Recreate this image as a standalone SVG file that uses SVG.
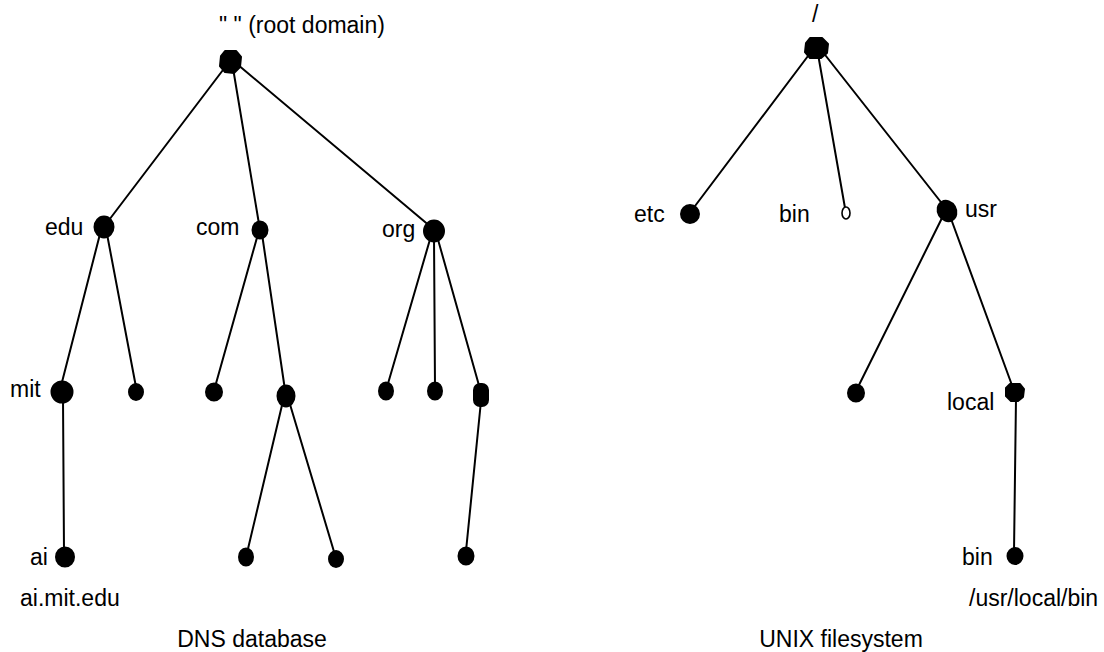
<svg xmlns="http://www.w3.org/2000/svg" width="1104" height="652" viewBox="0 0 1104 652">
  <style>
    text { font-family: "Liberation Sans", Arial, sans-serif; font-size: 23px; fill: #000; }
    .edge { stroke: #000; stroke-width: 2; fill: none; stroke-linecap: round; }
    .dot { fill: #000; stroke: #000; stroke-width: 2; stroke-linejoin: round; }
    .hollow { fill: #fff; stroke: #000; stroke-width: 1.6; }
    .mid { text-anchor: middle; }
  </style>

  <!-- connectors -->
  <g id="edges">
    <!-- DNS tree -->
    <line class="edge" x1="226" y1="66" x2="106" y2="224"/>
    <line class="edge" x1="233" y1="68" x2="259" y2="224"/>
    <line class="edge" x1="237" y1="64" x2="431" y2="227"/>
    <line class="edge" x1="100" y1="234" x2="61" y2="386"/>
    <line class="edge" x1="107" y1="234" x2="136" y2="387"/>
    <line class="edge" x1="258" y1="234" x2="215" y2="387"/>
    <line class="edge" x1="262" y1="234" x2="285" y2="390"/>
    <line class="edge" x1="431" y1="236" x2="387" y2="387"/>
    <line class="edge" x1="434" y1="236" x2="435" y2="387"/>
    <line class="edge" x1="437" y1="236" x2="480" y2="389"/>
    <line class="edge" x1="63" y1="398" x2="64" y2="552"/>
    <line class="edge" x1="283" y1="401" x2="247" y2="553"/>
    <line class="edge" x1="289" y1="401" x2="335" y2="555"/>
    <line class="edge" x1="481" y1="401" x2="466" y2="551"/>
    <!-- UNIX tree -->
    <line class="edge" x1="811" y1="52" x2="692" y2="210"/>
    <line class="edge" x1="818" y1="54" x2="845" y2="208"/>
    <line class="edge" x1="822" y1="51" x2="944" y2="206"/>
    <line class="edge" x1="943" y1="216" x2="857" y2="389"/>
    <line class="edge" x1="950" y1="216" x2="1013" y2="388"/>
    <line class="edge" x1="1016" y1="398" x2="1014" y2="552"/>
  </g>

  <!-- DNS database tree -->
  <g id="dns-root">
    <path class="dot" d="M225,51 L236,51 L241,57 L240,67 L234,73 L225,72 L220,66 L221,56 Z"/>
    <text class="mid" x="302" y="33">" " (root domain)</text>
  </g>
  <g id="dns-edu">
    <ellipse class="dot" cx="104" cy="227" rx="9.5" ry="10.5"/>
    <text x="45" y="235">edu</text>
  </g>
  <g id="dns-com">
    <ellipse class="dot" cx="260" cy="230" rx="7.5" ry="8.5"/>
    <text x="196" y="235">com</text>
  </g>
  <g id="dns-org">
    <ellipse class="dot" cx="434" cy="231" rx="10" ry="10.5"/>
    <text x="382" y="237">org</text>
  </g>
  <g id="dns-mit">
    <ellipse class="dot" cx="62" cy="392" rx="10.5" ry="10.5"/>
    <text x="10" y="397">mit</text>
  </g>
  <g id="dns-edu-other">
    <ellipse class="dot" cx="136" cy="392" rx="7" ry="8"/>
  </g>
  <g id="dns-com-a">
    <ellipse class="dot" cx="214" cy="392" rx="8" ry="8.5"/>
  </g>
  <g id="dns-com-b">
    <ellipse class="dot" cx="286" cy="396" rx="8.5" ry="10.5"/>
  </g>
  <g id="dns-org-a">
    <ellipse class="dot" cx="386" cy="391" rx="7" ry="8.5"/>
  </g>
  <g id="dns-org-b">
    <ellipse class="dot" cx="435" cy="391" rx="7" ry="8.5"/>
  </g>
  <g id="dns-org-c">
    <rect class="dot" x="474" y="384" width="14" height="22" rx="6" ry="6"/>
  </g>
  <g id="dns-ai">
    <ellipse class="dot" cx="65" cy="557" rx="9" ry="9.5"/>
    <text x="30" y="565">ai</text>
  </g>
  <g id="dns-com-b-a">
    <ellipse class="dot" cx="246" cy="557" rx="7" ry="8.5"/>
  </g>
  <g id="dns-com-b-b">
    <ellipse class="dot" cx="336" cy="559" rx="7" ry="8"/>
  </g>
  <g id="dns-org-c-a">
    <ellipse class="dot" cx="466" cy="556" rx="7.5" ry="8.5"/>
  </g>
  <g id="dns-caption">
    <text x="20" y="606">ai.mit.edu</text>
    <text class="mid" x="252" y="647">DNS database</text>
  </g>

  <!-- UNIX filesystem tree -->
  <g id="fs-root">
    <path class="dot" d="M810,38 L822,38 L828,44 L827,53 L821,58 L810,58 L805,52 L806,43 Z"/>
    <text x="812" y="22">/</text>
  </g>
  <g id="fs-etc">
    <ellipse class="dot" cx="690" cy="214" rx="9" ry="9"/>
    <text x="634" y="222">etc</text>
  </g>
  <g id="fs-bin">
    <ellipse class="hollow" cx="846" cy="213" rx="4" ry="6"/>
    <text x="779" y="222">bin</text>
  </g>
  <g id="fs-usr">
    <ellipse class="dot" cx="947" cy="211" rx="9" ry="10.5" transform="rotate(-30 947 211)"/>
    <text x="965" y="217">usr</text>
  </g>
  <g id="fs-usr-other">
    <ellipse class="dot" cx="856" cy="393" rx="8" ry="8.5"/>
  </g>
  <g id="fs-local">
    <path class="dot" d="M1010,384 L1020,384 L1024,389 L1023,397 L1018,401 L1011,401 L1006,396 L1006,388 Z"/>
    <text x="947" y="410">local</text>
  </g>
  <g id="fs-local-bin">
    <ellipse class="dot" cx="1015" cy="556" rx="7.5" ry="8"/>
    <text x="962" y="565">bin</text>
  </g>
  <g id="fs-caption">
    <text x="969" y="606">/usr/local/bin</text>
    <text class="mid" x="841" y="647">UNIX filesystem</text>
  </g>
</svg>
